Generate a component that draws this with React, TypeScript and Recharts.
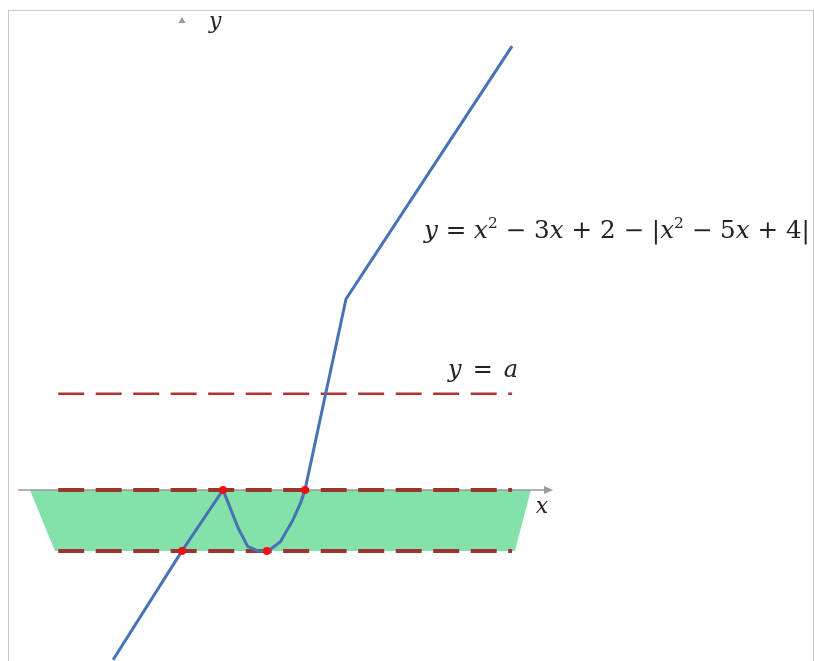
import { ComposedChart, Line, Area, Scatter, XAxis, YAxis, ReferenceDot } from "recharts";

// graph of y = x^2 - 3x + 2 - |x^2 - 5x + 4|
const curveX = [-1.68, 0, 1, 1.37, 1.6, 1.85, 2.1, 2.4, 2.7, 2.9, 3, 4, 8.05];
const curveY = [-5.57, -2, 0, -1.25, -1.85, -2, -2, -1.7, -1, -0.4, 0, 6.26, 14.55];

// intersection points with the boundary lines
const dotX = [0, 1, 2.07, 3];
const dotY = [-2, 0, -2, 0];

// shaded strip -2 <= y <= 0 (slanted ends)
const bandX = [-3.71, -3.1, 8.12, 8.51];
const bandLow = [0, -2, -2, 0];
const bandHigh = [0, 0, 0, 0];

// horizontal dashed lines y = 0, y = -2, y = a
const dashFrom = -3.02;
const dashTo = 8.05;
const levelZero = 0;
const levelMin = -2;
const levelA = 3.15;

const axisFrom = -4.0;
const axisTo = 9.05;
const yArrow = 15.41;

const X_DOMAIN = [-4.22, 15.39];
const Y_DOMAIN = [-5.61, 16.03];

const curve = curveX.map((x, i) => ({ x, y: curveY[i] }));
const dots = dotX.map((x, i) => ({ x, y: dotY[i] }));
const band = bandX.map((x, i) => ({ x, range: [bandLow[i], bandHigh[i]] }));
const seg = (y: number, a = dashFrom, b = dashTo) => [
  { x: a, y },
  { x: b, y },
];

const MATH = "'DejaVu Serif', 'Liberation Serif', serif";

function Formula({ cx, cy }: { cx?: number; cy?: number }) {
  return (
    <text
      x={cx}
      y={cy}
      fontFamily={MATH}
      fontSize={24}
      fill="#222"
      textLength={386}
      lengthAdjust="spacingAndGlyphs"
    >
      <tspan fontStyle="italic">y</tspan>
      <tspan> = </tspan>
      <tspan fontStyle="italic">x</tspan>
      <tspan fontSize={15} dy={-10}>2</tspan>
      <tspan dy={10}> − 3</tspan>
      <tspan fontStyle="italic">x</tspan>
      <tspan> + 2 − |</tspan>
      <tspan fontStyle="italic">x</tspan>
      <tspan fontSize={15} dy={-10}>2</tspan>
      <tspan dy={10}> − 5</tspan>
      <tspan fontStyle="italic">x</tspan>
      <tspan> + 4|</tspan>
    </text>
  );
}

function LabelA({ cx, cy }: { cx?: number; cy?: number }) {
  return (
    <text x={cx} y={cy} fontFamily={MATH} fontSize={24} fill="#222" textLength={70} lengthAdjust="spacing">
      <tspan fontStyle="italic">y</tspan>
      <tspan> = </tspan>
      <tspan fontStyle="italic">a</tspan>
    </text>
  );
}

function AxisName({ cx, cy, name }: { cx?: number; cy?: number; name: string }) {
  return (
    <text x={cx} y={cy} fontFamily={MATH} fontSize={22} fontStyle="italic" fill="#222">
      {name}
    </text>
  );
}

function ArrowUp({ cx = 0, cy = 0 }: { cx?: number; cy?: number }) {
  return <path d={`M${cx - 3.5},${cy + 3} L${cx + 3.5},${cy + 3} L${cx},${cy - 3} Z`} fill="#999" />;
}

function ArrowRight({ cx = 0, cy = 0 }: { cx?: number; cy?: number }) {
  return <path d={`M${cx - 9},${cy - 4} L${cx - 9},${cy + 4} L${cx},${cy} Z`} fill="#999" />;
}

function RedDot({ cx = 0, cy = 0 }: { cx?: number; cy?: number }) {
  return <circle cx={cx} cy={cy} r={4} fill="#ee1111" />;
}

export default function App() {
  return (
    <div
      style={{
        position: "fixed",
        top: 10,
        left: 8,
        width: 806,
        height: 660,
        boxSizing: "border-box",
        borderTop: "1px solid #c8c8c8",
        borderLeft: "1px solid #c8c8c8",
        borderRight: "1px solid #c8c8c8",
        background: "#fff",
      }}
    >
      <div style={{ position: "absolute", top: -10, left: 0 }}>
        <ComposedChart width={804} height={660} margin={{ top: 0, right: 0, bottom: 0, left: 0 }}>
          <XAxis dataKey="x" type="number" domain={X_DOMAIN} allowDataOverflow hide />
          <YAxis type="number" domain={Y_DOMAIN} allowDataOverflow hide />

          <Area
            data={band}
            dataKey="range"
            type="linear"
            fill="#84e1aa"
            fillOpacity={1}
            stroke="none"
            isAnimationActive={false}
          />

          <Line
            data={seg(levelZero, axisFrom, axisTo - 0.15)}
            dataKey="y"
            type="linear"
            stroke="#999"
            strokeWidth={1.5}
            dot={false}
            isAnimationActive={false}
          />

          <Line
            data={seg(levelZero)}
            dataKey="y"
            type="linear"
            stroke="#9b3530"
            strokeWidth={4}
            strokeDasharray="26 11.5"
            dot={false}
            isAnimationActive={false}
          />
          <Line
            data={seg(levelMin)}
            dataKey="y"
            type="linear"
            stroke="#9b3530"
            strokeWidth={4}
            strokeDasharray="26 11.5"
            dot={false}
            isAnimationActive={false}
          />
          <Line
            data={seg(levelA)}
            dataKey="y"
            type="linear"
            stroke="#b23232"
            strokeWidth={2.5}
            strokeDasharray="26 11.5"
            dot={false}
            isAnimationActive={false}
          />

          <Line
            data={curve}
            dataKey="y"
            type="linear"
            stroke="#4673b6"
            strokeWidth={3}
            dot={false}
            isAnimationActive={false}
          />

          <Scatter data={dots} dataKey="y" shape={<RedDot />} isAnimationActive={false} />

          <ReferenceDot x={0} y={yArrow} r={0} shape={<ArrowUp />} />
          <ReferenceDot x={axisTo} y={levelZero} r={0} shape={<ArrowRight />} />
          <ReferenceDot x={0.66} y={15.15} r={0} shape={<AxisName name="y" />} />
          <ReferenceDot x={8.63} y={-0.75} r={0} shape={<AxisName name="x" />} />
          <ReferenceDot x={5.9} y={8.26} r={0} shape={<Formula />} />
          <ReferenceDot x={6.49} y={3.7} r={0} shape={<LabelA />} />
        </ComposedChart>
      </div>
    </div>
  );
}
